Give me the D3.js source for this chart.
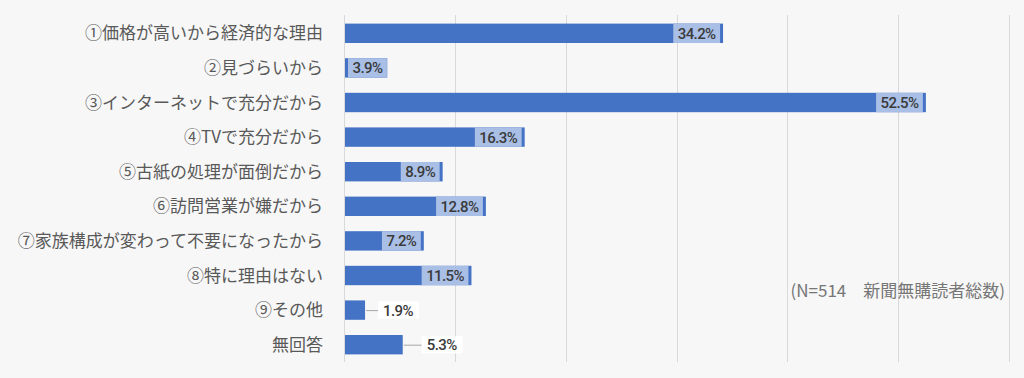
<!DOCTYPE html>
<html>
<head>
<meta charset="utf-8">
<script src="https://cdn.jsdelivr.net/npm/d3@7"></script>
<style>
  html, body { margin: 0; padding: 0; background: #f7f7f7; }
  svg { display: block; }
</style>
</head>
<body>
<div id="chart"></div>
<script>
// Data
const categories = [
  "①価格が高いから経済的な理由",
  "②見づらいから",
  "③インターネットで充分だから",
  "④TVで充分だから",
  "⑤古紙の処理が面倒だから",
  "⑥訪問営業が嫌だから",
  "⑦家族構成が変わって不要になったから",
  "⑧特に理由はない",
  "⑨その他",
  "無回答"
];
const values = [34.2, 3.9, 52.5, 16.3, 8.9, 12.8, 7.2, 11.5, 1.9, 5.3];
const xTicks = [0, 10, 20, 30, 40, 50, 60];
const note = "(N=514　新聞無購読者総数)";

// rows whose labels sit outside the bar, with a leader line
const outsideLabels = ["⑨その他", "無回答"];

// Setup SVG dimensions
const W = 1024, H = 378;
const margin = { top: 16, right: 15, bottom: 16, left: 344 };
const width = W - margin.left - margin.right;
const height = H - margin.top - margin.bottom;

const svg = d3.select("#chart")
  .append("svg")
  .attr("width", W)
  .attr("height", H);

svg.append("rect").attr("width", W).attr("height", H).attr("fill", "#f7f7f7");

const g = svg.append("g")
  .attr("transform", "translate(" + margin.left + "," + margin.top + ")");

// Scales
const x = d3.scaleLinear().domain([0, 60]).range([0, width]);
const y = d3.scaleBand().domain(categories).range([0, height]).paddingInner(0.44).paddingOuter(0.22);

// Grid lines
g.selectAll("line.grid")
  .data(xTicks)
  .enter().append("line")
  .attr("class", "grid")
  .attr("x1", d => Math.round(x(d)) + 0.5)
  .attr("x2", d => Math.round(x(d)) + 0.5)
  .attr("y1", -1)
  .attr("y2", height)
  .attr("stroke", "#d9d9d9")
  .attr("stroke-width", 1);

// Category labels
svg.append("g")
  .selectAll("text")
  .data(categories)
  .enter().append("text")
  .attr("x", 323)
  .attr("y", d => margin.top + y(d) + y.bandwidth() / 2)
  .attr("dy", "0.36em")
  .attr("text-anchor", "end")
  .attr("fill", "#595959")
  .style("font-family", "'Noto Sans CJK JP', sans-serif")
  .style("font-size", "17px")
  .text(d => d);

const rows = categories.map((c, i) => ({ name: c, value: values[i] }));

// Bars
g.selectAll("rect.bar")
  .data(rows)
  .enter().append("rect")
  .attr("class", "bar")
  .attr("x", x(0) + 1)
  .attr("y", d => y(d.name))
  .attr("width", d => x(d.value) - x(0) - 1)
  .attr("height", y.bandwidth())
  .attr("fill", "#4472c4");

// Value labels
const labelFont = "'Roboto', sans-serif";
rows.forEach(d => {
  const cy = y(d.name) + y.bandwidth() / 2;
  const lg = g.append("g");
  const t = lg.append("text")
    .attr("dy", "0.36em")
    .attr("fill", "#3a3a3a")
    .style("font-family", labelFont)
    .style("font-size", "15px")
    .style("font-weight", "500")
    .style("letter-spacing", "-0.6px")
    .text(d.value.toFixed(1) + "%");
  const tw = t.node().getComputedTextLength();
  const boxW = tw + 9;
  const barEnd = x(d.value);
  if (!outsideLabels.includes(d.name)) {
    const bx = Math.max(x(0) + 4, barEnd - 3 - boxW);
    lg.insert("rect", "text")
      .attr("x", bx)
      .attr("y", y(d.name))
      .attr("width", boxW)
      .attr("height", y.bandwidth())
      .attr("fill", "#a9bfe6");
    t.attr("x", bx + 4.5).attr("y", cy);
  } else {
    // outside label with leader line
    const gap = d.value > 4 ? 18 : 12;
    lg.insert("line", "text")
      .attr("x1", barEnd + 1)
      .attr("x2", barEnd + 1 + gap)
      .attr("y1", cy + 0.5)
      .attr("y2", cy + 0.5)
      .attr("stroke", "#a6a6a6");
    const bx = barEnd + 1 + gap;
    lg.insert("rect", "text")
      .attr("x", bx)
      .attr("y", y(d.name) + 1)
      .attr("width", boxW + 2)
      .attr("height", y.bandwidth() - 2)
      .attr("fill", "#ffffff");
    t.attr("x", bx + 5).attr("y", cy);
  }
});

// Note
svg.append("text")
  .attr("x", 1005)
  .attr("y", 291)
  .attr("dy", "0.36em")
  .attr("text-anchor", "end")
  .attr("fill", "#767676")
  .style("font-family", "'Noto Sans CJK JP', sans-serif")
  .style("font-size", "17px")
  .text(note);
</script>
</body>
</html>
